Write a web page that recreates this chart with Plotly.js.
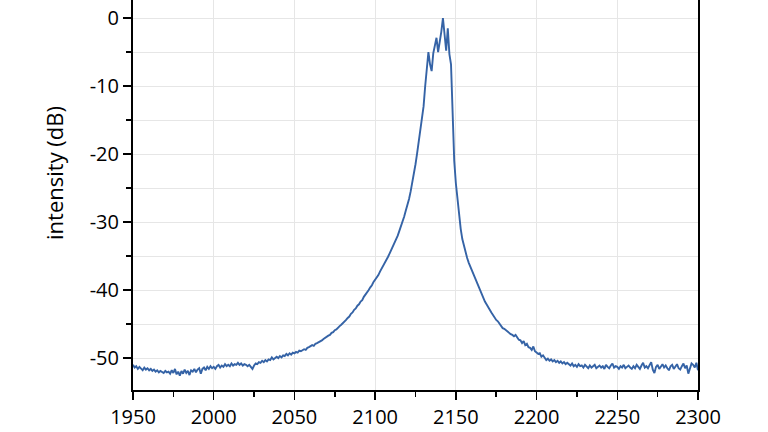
<!DOCTYPE html>
<html>
<head>
<meta charset="utf-8">
<script src="https://cdn.plot.ly/plotly-3.0.1.min.js"></script>
<style>
html,body{margin:0;padding:0;background:#fff;overflow:hidden;width:768px;height:432px;}
#chart{position:absolute;left:0;top:-44px;width:768px;height:476px;}
</style>
</head>
<body>
<div id="chart"></div>
<script>
// wavelength grid: start 1950 nm, 1 nm step
const wavelengthStart = 1950;
const wavelengthStep = 1;
// intensity (dB), 1950..2300 nm
const intensity = [
-51.0,-51.4,-51.2,-51.6,-51.3,-51.5,-51.8,-51.4,-51.7,-51.5,
-51.8,-51.6,-51.9,-51.7,-52.0,-51.8,-52.1,-51.9,-52.0,-52.2,
-51.9,-52.1,-52.0,-52.3,-51.8,-52.2,-51.6,-52.4,-52.0,-52.6,
-51.9,-52.3,-51.7,-52.2,-51.9,-52.5,-51.8,-52.0,-51.6,-52.1,
-51.7,-51.5,-52.3,-51.6,-51.4,-51.8,-51.3,-51.6,-51.2,-51.5,
-51.3,-51.6,-51.2,-51.0,-51.4,-51.1,-51.3,-50.9,-51.2,-51.0,
-51.2,-50.8,-51.1,-50.9,-51.0,-50.7,-51.0,-50.8,-51.1,-50.9,
-51.0,-51.2,-51.0,-51.3,-51.6,-51.1,-50.8,-50.9,-50.6,-50.7,
-50.4,-50.6,-50.3,-50.5,-50.2,-50.3,-49.9,-50.2,-50.0,-49.8,
-50.0,-49.7,-49.9,-49.6,-49.7,-49.4,-49.6,-49.3,-49.5,-49.2,
-49.3,-49.1,-49.2,-48.9,-49.0,-48.8,-48.7,-48.8,-48.5,-48.4,
-48.3,-48.1,-48.2,-47.9,-47.8,-47.7,-47.5,-47.4,-47.2,-47.0,
-46.9,-46.7,-46.6,-46.3,-46.2,-45.9,-45.8,-45.5,-45.3,-45.1,
-44.9,-44.6,-44.4,-44.1,-43.9,-43.5,-43.3,-42.9,-42.7,-42.3,
-42.1,-41.7,-41.5,-41.0,-40.7,-40.3,-40.0,-39.6,-39.3,-38.8,
-38.5,-38.1,-37.8,-37.3,-36.9,-36.5,-36.0,-35.6,-35.1,-34.6,
-34.1,-33.6,-33.1,-32.6,-32.0,-31.3,-30.7,-30.0,-29.2,-28.3,
-27.5,-26.6,-25.5,-24.3,-23.0,-21.5,-19.9,-18.3,-16.7,-15.0,
-13.0,-10.0,-7.5,-5.0,-6.8,-7.8,-5.2,-4.0,-2.9,-5.0,
-3.6,-2.0,0.0,-2.8,-4.8,-1.5,-5.3,-6.8,-16.0,-21.0,
-24.3,-26.8,-29.2,-31.0,-32.5,-33.6,-34.3,-35.3,-36.0,-36.6,
-37.2,-37.7,-38.3,-38.9,-39.6,-40.2,-40.8,-41.2,-41.7,-42.1,
-42.6,-42.9,-43.3,-43.7,-44.0,-44.4,-44.6,-44.9,-45.3,-45.6,
-45.7,-45.9,-46.2,-46.3,-46.5,-46.6,-46.8,-46.6,-47.0,-47.3,
-47.4,-47.8,-47.5,-48.1,-47.9,-48.4,-48.5,-48.8,-48.3,-49.0,
-49.2,-49.4,-49.3,-49.8,-49.6,-50.0,-50.3,-50.1,-50.4,-50.2,
-50.5,-50.3,-50.6,-50.4,-50.7,-50.5,-50.8,-50.6,-50.9,-50.7,
-50.9,-51.1,-50.8,-51.2,-51.0,-51.3,-50.9,-51.2,-51.1,-51.4,
-51.0,-51.3,-51.5,-51.1,-51.4,-51.2,-51.0,-51.5,-51.3,-51.1,
-51.4,-51.2,-51.6,-51.0,-51.3,-51.5,-51.1,-50.8,-51.4,-51.2,
-51.3,-51.6,-51.2,-51.4,-51.0,-51.5,-51.3,-51.1,-51.4,-51.6,
-51.2,-51.5,-51.0,-51.3,-51.6,-51.1,-50.7,-51.4,-51.2,-51.5,
-51.1,-50.6,-51.7,-52.2,-51.3,-51.0,-51.6,-51.2,-50.9,-51.4,
-51.1,-51.5,-51.8,-51.2,-51.0,-51.6,-51.3,-50.9,-51.5,-51.7,
-51.2,-50.8,-51.5,-51.1,-52.3,-51.6,-50.8,-51.0,-51.4,-50.7,
-51.8
];
const xTickValues = [1950, 2000, 2050, 2100, 2150, 2200, 2250, 2300];
const yTickValues = [0, -10, -20, -30, -40, -50];
const yTitle = 'intensity (dB)';

const tickFont = {family: '"Open Sans", "Noto Sans", sans-serif', size: 20, color: '#000'};
const titleFont = {family: '"Open Sans", "Noto Sans", sans-serif', size: 22, color: '#000'};

Plotly.newPlot('chart', [{
  type: 'scatter',
  mode: 'lines',
  x0: wavelengthStart,
  dx: wavelengthStep,
  y: intensity,
  line: {color: '#3563a6', width: 1.9},
  hoverinfo: 'skip'
}], {
  width: 768,
  height: 476,
  margin: {l: 133, r: 70, t: 0, b: 42},
  paper_bgcolor: '#fff',
  plot_bgcolor: '#fff',
  showlegend: false,
  font: tickFont,
  xaxis: {
    range: [1950, 2300],
    tickvals: xTickValues,
    ticktext: xTickValues.map(String),
    ticks: 'outside', ticklen: 8, tickwidth: 1.5, tickcolor: '#000',
    showline: true, linecolor: '#000', linewidth: 2,
    showgrid: true, gridcolor: '#e6e6e6', gridwidth: 1,
    zeroline: false,
    minor: {dtick: 25, tick0: 1950, ticks: 'outside', ticklen: 5, tickwidth: 1.5, tickcolor: '#000', showgrid: false},
    tickfont: tickFont
  },
  yaxis: {
    range: [-54.7, 9.12],
    tickvals: yTickValues,
    ticktext: yTickValues.map(String),
    ticks: 'outside', ticklen: 8, tickwidth: 1.5, tickcolor: '#000',
    showline: true, linecolor: '#000', linewidth: 2, mirror: true,
    showgrid: true, gridcolor: '#e6e6e6', gridwidth: 1,
    zeroline: false,
    minor: {dtick: 5, tick0: 0, ticks: 'outside', ticklen: 5, tickwidth: 1.5, tickcolor: '#000', showgrid: true, gridcolor: '#e6e6e6', gridwidth: 1},
    tickfont: tickFont,
    title: {text: yTitle, font: titleFont, standoff: 20}
  }
}, {staticPlot: true});
</script>
</body>
</html>
